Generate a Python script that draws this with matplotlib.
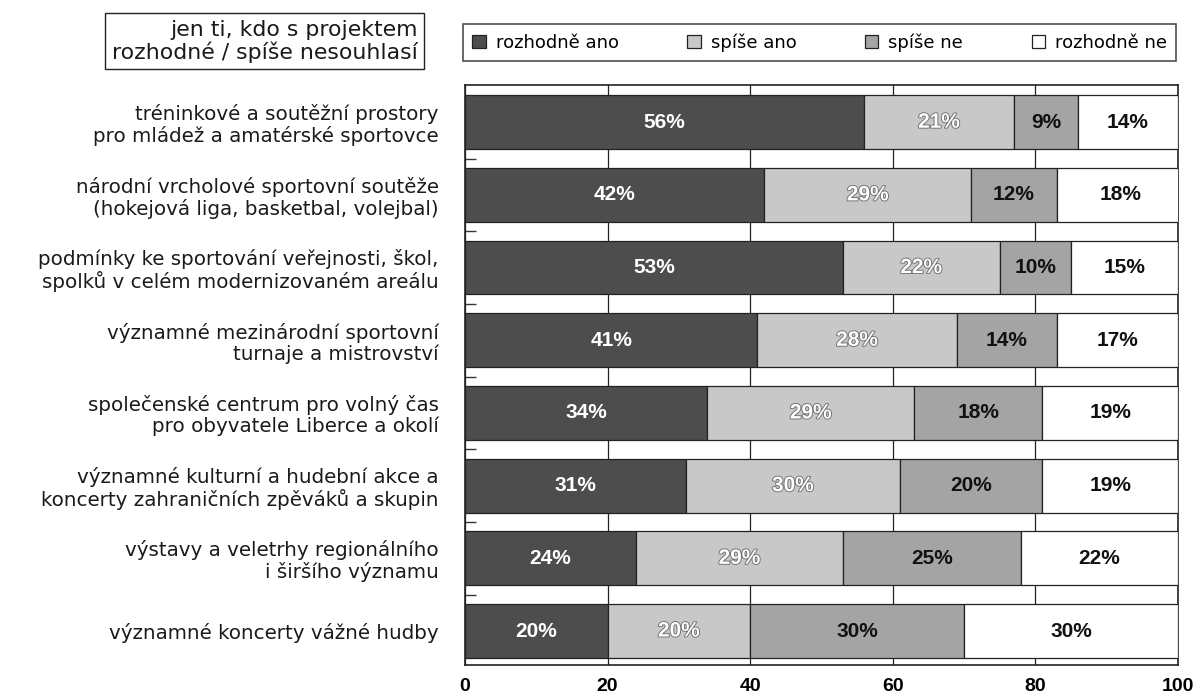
import matplotlib
matplotlib.use("Agg")
import matplotlib.pyplot as plt
import matplotlib.patheffects as pe
import numpy as np

categories = [
    "tréninkové a soutěžní prostory\npro mládež a amatérské sportovce",
    "národní vrcholové sportovní soutěže\n(hokejová liga, basketbal, volejbal)",
    "podmínky ke sportování veřejnosti, škol,\nspolků v celém modernizovaném areálu",
    "významné mezinárodní sportovní\nturnaje a mistrovství",
    "společenské centrum pro volný čas\npro obyvatele Liberce a okolí",
    "významné kulturní a hudební akce a\nkoncerty zahraničních zpěváků a skupin",
    "výstavy a veletrhy regionálního\ni širšího významu",
    "významné koncerty vážné hudby",
]
series_names = ["rozhodně ano", "spíše ano", "spíše ne", "rozhodně ne"]
rozhodne_ano = [56, 42, 53, 41, 34, 31, 24, 20]
spise_ano = [21, 29, 22, 28, 29, 30, 29, 20]
spise_ne = [9, 12, 10, 14, 18, 20, 25, 30]
rozhodne_ne = [14, 18, 15, 17, 19, 19, 22, 30]
x_ticks = [0, 20, 40, 60, 80, 100]
note_text = "jen ti, kdo s projektem\nrozhodné / spíše nesouhlasí"

series = [rozhodne_ano, spise_ano, spise_ne, rozhodne_ne]
colors = ["#4d4d4d", "#c8c8c8", "#a4a4a4", "#ffffff"]
text_colors = ["white", "white", "#111111", "#111111"]

plt.rcParams['font.family'] = ['DejaVu Sans']
num_font = ['Liberation Sans', 'DejaVu Sans']

fig = plt.figure(figsize=(11.97, 6.98), dpi=100)
ax = fig.add_axes([0.3885, 0.047, 0.5955, 0.831])

y = np.arange(len(categories))
left = np.zeros(len(categories))
handles = []
for i, (vals, name) in enumerate(zip(series, series_names)):
    vals = np.array(vals, dtype=float)
    bars = ax.barh(y, vals, left=left, height=0.74, color=colors[i],
                   edgecolor="#222222", linewidth=0.9, label=name, zorder=3)
    handles.append(bars)
    for yi, (l, v) in enumerate(zip(left, vals)):
        if i == 1:
            effects = [pe.withStroke(linewidth=1.3, foreground="#6f6f6f")]
        else:
            effects = None
        ax.text(l + v / 2, yi, f"{int(v)}%", ha="center", va="center",
                fontsize=15, fontweight="bold", color=text_colors[i],
                family=num_font, path_effects=effects, zorder=4)
    left += vals

ax.set_xlim(0, 100)
ax.set_ylim(7.47, -0.51)
ax.set_xticks(x_ticks)
ax.set_xticklabels([str(t) for t in x_ticks], fontsize=14, fontweight="bold",
                   family=num_font)
ax.tick_params(axis="x", length=0, pad=9)
ax.set_yticks(y)
ax.set_yticklabels(categories, fontsize=14.3, color="#1a1a1a", linespacing=1.1)
ax.tick_params(axis="y", which="major", length=0, pad=19)
ax.set_yticks(np.arange(0.5, len(categories) - 0.5, 1.0), minor=True)
ax.tick_params(axis="y", which="minor", direction="in", length=8, width=1.0, color="#333333")
ax.xaxis.grid(True, color="#222222", linewidth=0.9, zorder=0)
ax.set_axisbelow(True)
for s in ax.spines.values():
    s.set_linewidth(1.2)
    s.set_color("#222222")

leg = fig.legend(handles=handles, labels=series_names, loc="upper left",
                 bbox_to_anchor=(463 / 1197, 1 - 24 / 698), ncol=4,
                 fontsize=13, frameon=True, fancybox=False, edgecolor="#222222",
                 handlelength=0.75, handleheight=0.75, handletextpad=0.55,
                 columnspacing=3.8, borderpad=0.5, borderaxespad=0)
leg.get_frame().set_linewidth(1.2)

fig.text(0.349, 0.941, note_text, ha="right", va="center", fontsize=15.8,
         multialignment="right", color="#1a1a1a", linespacing=1.1,
         bbox=dict(boxstyle="square,pad=0.3", facecolor="white",
                   edgecolor="#222222", linewidth=1.0))

fig.savefig("out.png", dpi=100)
